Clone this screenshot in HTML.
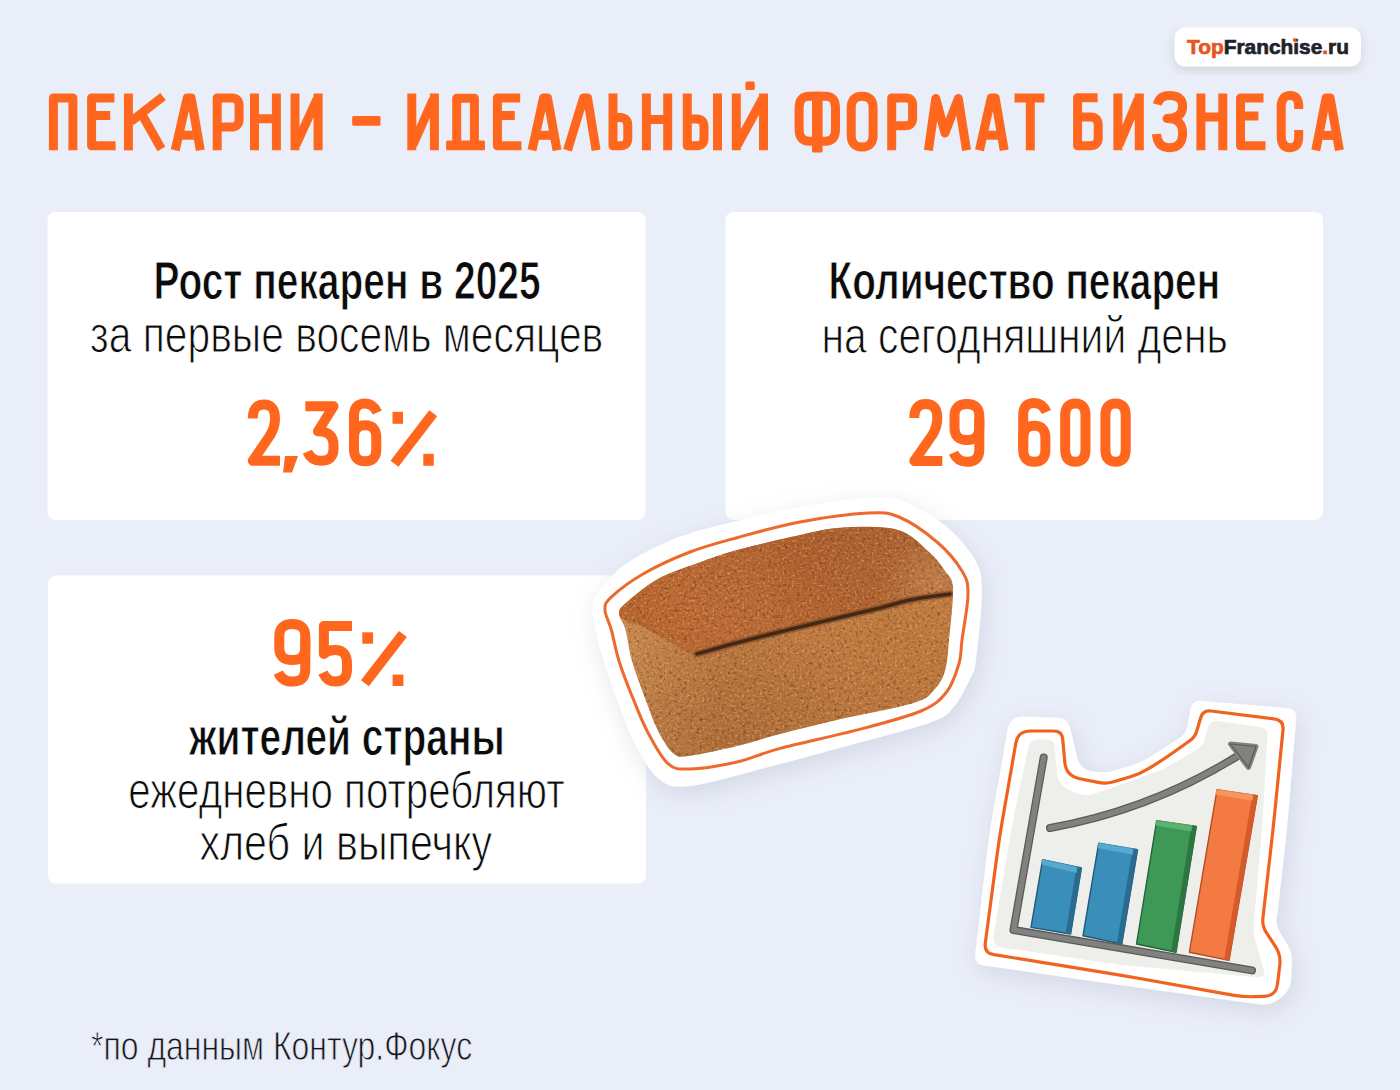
<!DOCTYPE html>
<html><head><meta charset="utf-8">
<style>
html,body{margin:0;padding:0;background:#EAEEF8;}
body{width:1400px;height:1090px;overflow:hidden;position:relative;font-family:"Liberation Sans",sans-serif;}
svg{position:absolute;left:0;top:0;}
text{font-family:"Liberation Sans",sans-serif;}
</style></head>
<body>
<svg width="1400" height="1090" viewBox="0 0 1400 1090">
<defs>
  <filter id="sh" x="-10%" y="-10%" width="120%" height="130%">
    <feGaussianBlur in="SourceAlpha" stdDeviation="6"/>
    <feOffset dy="4"/>
    <feComponentTransfer><feFuncA type="linear" slope="0.12"/></feComponentTransfer>
    <feMerge><feMergeNode/><feMergeNode in="SourceGraphic"/></feMerge>
  </filter>
  <filter id="stsh" x="-20%" y="-20%" width="140%" height="150%">
    <feGaussianBlur in="SourceAlpha" stdDeviation="12"/>
    <feOffset dx="3" dy="7"/>
    <feColorMatrix type="matrix" values="0 0 0 0 0.25  0 0 0 0 0.28  0 0 0 0 0.42  0 0 0 0.24 0"/>
    <feMerge><feMergeNode/><feMergeNode in="SourceGraphic"/></feMerge>
  </filter>
  <filter id="texDark" x="0" y="0" width="100%" height="100%" color-interpolation-filters="sRGB">
    <feTurbulence type="fractalNoise" baseFrequency="0.32" numOctaves="3" seed="7" result="n"/>
    <feColorMatrix in="n" type="matrix" values="0 0 0 0 0.35  0 0 0 0 0.17  0 0 0 0 0.05  3.2 0 0 0 -1.75"/>
  </filter>
  <filter id="texLight" x="0" y="0" width="100%" height="100%" color-interpolation-filters="sRGB">
    <feTurbulence type="fractalNoise" baseFrequency="0.4" numOctaves="3" seed="11" result="n"/>
    <feColorMatrix in="n" type="matrix" values="0 0 0 0 1  0 0 0 0 0.78  0 0 0 0 0.5  -3.2 0 0 0 1.5"/>
  </filter>
  <linearGradient id="breadSide" gradientUnits="userSpaceOnUse" x1="620" y1="650" x2="950" y2="620">
    <stop offset="0" stop-color="#C88A52"/>
    <stop offset="0.3" stop-color="#C07C44"/>
    <stop offset="1" stop-color="#BE7A40"/>
  </linearGradient>
  <linearGradient id="breadSideShade" gradientUnits="userSpaceOnUse" x1="0" y1="600" x2="0" y2="760">
    <stop offset="0" stop-color="#8A4A20" stop-opacity="0"/>
    <stop offset="1" stop-color="#8A4A20" stop-opacity="0.15"/>
  </linearGradient>
  <linearGradient id="breadTop" gradientUnits="userSpaceOnUse" x1="650" y1="580" x2="940" y2="560">
    <stop offset="0" stop-color="#B4632E"/>
    <stop offset="0.5" stop-color="#AF5F2C"/>
    <stop offset="1" stop-color="#AC6434"/>
  </linearGradient>
  <radialGradient id="crustHi" gradientUnits="userSpaceOnUse" cx="760" cy="600" r="160">
    <stop offset="0" stop-color="#E09060" stop-opacity="0.25"/>
    <stop offset="1" stop-color="#E09060" stop-opacity="0"/>
  </radialGradient>
  <radialGradient id="faceDark" gradientUnits="userSpaceOnUse" cx="730" cy="740" r="140">
    <stop offset="0" stop-color="#6A3A18" stop-opacity="0.16"/>
    <stop offset="1" stop-color="#6A3A18" stop-opacity="0"/>
  </radialGradient>
  <radialGradient id="crustLight" gradientUnits="userSpaceOnUse" cx="935" cy="585" r="55">
    <stop offset="0" stop-color="#E8B078" stop-opacity="0.35"/>
    <stop offset="1" stop-color="#E8B078" stop-opacity="0"/>
  </radialGradient>
  <radialGradient id="crustDark" gradientUnits="userSpaceOnUse" cx="800" cy="545" r="120">
    <stop offset="0" stop-color="#7A3A14" stop-opacity="0.18"/>
    <stop offset="1" stop-color="#7A3A14" stop-opacity="0"/>
  </radialGradient>
</defs>
<rect width="1400" height="1090" fill="#EAEEF8"/>
<!-- logo -->
<rect x="1174.5" y="27.5" width="186.5" height="39" rx="11" fill="#fff" filter="url(#sh)"/>
<text x="1187" y="54.4" font-weight="bold" font-size="20.5" textLength="162" lengthAdjust="spacingAndGlyphs" stroke-width="0.7"><tspan fill="#E8541C" stroke="#E8541C">Top</tspan><tspan fill="#1F232B" stroke="#1F232B">Franchise</tspan><tspan fill="#E8541C" stroke="#E8541C">.</tspan><tspan fill="#1F232B" stroke="#1F232B">ru</tspan></text>
<rect x="1293" y="38.5" width="3.6" height="3" fill="#E8541C"/>
<!-- title -->
<g fill="none" stroke="#FF661E" stroke-width="9" stroke-linecap="butt" stroke-linejoin="round">
<path d="M53.4,150.3 V98.0 H72.9 V150.3"/>
<path d="M114.4,98.0 H91.6 V145.8 H115.6"/>
<path d="M91.6,115.5 H110.2"/>
<path d="M128.4,93.5 V150.3"/>
<path d="M131,121.5 L163,96.5"/>
<path d="M142.5,115.5 L161.4,149"/>
<path d="M175.2,150.3 L187.2,98 H191.2 L200.3,150.3"/>
<path d="M180,135.2 H196"/>
<path d="M217.2,150.3 V98.0 H232 Q239.1,98.0 239.1,106 V119 Q239.1,127.1 231,127.1 H217.2"/>
<path d="M254.5,150.3 V93.5 M276.4,93.5 V150.3 M254.5,118.7 H276.4"/>
<path d="M295,150.3 V93.5 M318.1,93.5 V150.3 M317,99 L296,145"/>
<path d="M411.8,150.3 V93.5 M434.4,93.5 V150.3 M433.3,99 L412.9,145"/>
<path d="M456.7,141 V98.2 H474.4 V141"/>
<path d="M520.2,98.0 H497.4 V145.8 H521.4"/>
<path d="M497.4,115.5 H514.8"/>
<path d="M532,150.3 L543.5,98 H547.5 L557,150.3"/>
<path d="M536,135.3 H553"/>
<path d="M567.5,150.3 L583.5,98 H587.5 L596.1,150.3"/>
<path d="M613,93.5 V145.8 H621 Q627.8,145.8 627.8,138 V126 Q627.8,117.5 620,117.5 H613"/>
<path d="M646.4,150.3 V93.5 M667.7,93.5 V150.3 M646.4,119.6 H667.7"/>
<path d="M687.3,93.5 V145.8 H697 Q704,145.8 704,138 V127 Q704,119 697,119 H687.3"/>
<path d="M717.5,93.5 V150.3"/>
<path d="M736.3,150.3 V93.5 M763.5,93.5 V150.3 M762.4,99 L737.4,145"/>
<path d="M813,96.2 H809 Q799.1,96.2 799.1,108 V129 Q799.1,141.2 809,141.2 H825.6 Q835.5,141.2 835.5,129 V108 Q835.5,96.2 825.6,96.2 Z"/>
<path d="M862.1,96.2 Q873.1,96.2 873.1,108 V135 Q873.1,147 862.1,147 Q851.2,147 851.2,135 V108 Q851.2,96.2 862.1,96.2 Z"/>
<path d="M891.7,150.3 V98.0 H906 Q912.6,98.0 912.6,105 V118 Q912.6,125.8 905,125.8 H891.7"/>
<path d="M928.4,150.3 L935.8,98.5 L945,133 L958.3,98.5 L966.5,150.3"/>
<path d="M979.5,150.3 L991.2,98 H995.2 L1004.2,150.3"/>
<path d="M984,135.2 H1000"/>
<path d="M1014.5,98.0 H1044.4"/>
<path d="M1030.3,98.0 V150.3"/>
<path d="M1097.6,97.8 H1077.6 V145.8 H1090 Q1098.2,145.8 1098.2,138 V125 Q1098.2,117 1090,117 H1077.6"/>
<path d="M1117.9,150.3 V93.5 M1139.3,93.5 V150.3 M1138.2,99 L1119,145"/>
<path d="M1157.5,104.5 Q1159.5,95.6 1169.5,95.6 Q1182.6,95.6 1182.6,106.5 Q1182.6,118.6 1167,118.6 Q1182.6,118.6 1182.6,133 Q1182.6,147.7 1169.5,147.7 Q1157.5,147.7 1156.5,134"/>
<path d="M1200.9,150.3 V93.5 M1222.8,93.5 V150.3 M1200.9,117.1 H1222.8"/>
<path d="M1263.5,98.0 H1240.5 V145.8 H1265.5"/>
<path d="M1240.5,116 H1258.4"/>
<path d="M1298.7,109 V106 Q1298.7,95.6 1290,95.6 Q1281.2,95.6 1281.2,107 V136 Q1281.2,147.7 1290,147.7 Q1298.7,147.7 1298.7,137 V130"/>
<path d="M1315.8,150.3 L1326.1,98 H1330.1 L1339.4,150.3"/>
<path d="M1320,135.4 H1336"/>
</g>
<g fill="#FF661E">
<rect x="352.2" y="116.1" width="28.3" height="9.7" rx="1.5"/>
<rect x="446.1" y="140.5" width="38.9" height="9.7" rx="1.5"/>
<rect x="745.4" y="81.5" width="9.4" height="8.6" rx="1.5"/>
<rect x="812.0" y="91.7" width="10.6" height="60.8" rx="1.5"/>
</g>

<!-- cards -->
<rect x="47.5" y="212" width="598" height="308" rx="8" fill="#fff"/>
<rect x="725.5" y="212" width="597.5" height="308" rx="8" fill="#fff"/>
<rect x="48" y="575.5" width="598" height="308" rx="8" fill="#fff"/>
<text id="t1" x="153.40" y="299.30" font-size="53" textLength="387.27" lengthAdjust="spacingAndGlyphs" font-weight="bold" fill="#0B0B0B" stroke="#fff" stroke-width="1.0">Рост пекарен в 2025</text>
<text id="t2" x="90.00" y="352.40" font-size="52" textLength="513.24" lengthAdjust="spacingAndGlyphs" fill="#0B0B0B" stroke="#fff" stroke-width="1.1">за первые восемь месяцев</text>
<text id="t3" x="828.60" y="299.30" font-size="53" textLength="391.50" lengthAdjust="spacingAndGlyphs" font-weight="bold" fill="#0B0B0B" stroke="#fff" stroke-width="1.0">Количество пекарен</text>
<text id="t4" x="821.40" y="352.80" font-size="52" textLength="406.48" lengthAdjust="spacingAndGlyphs" fill="#0B0B0B" stroke="#fff" stroke-width="1.1">на сегодняшний день</text>
<text id="t5" x="189.00" y="755.10" font-size="53" textLength="315.66" lengthAdjust="spacingAndGlyphs" font-weight="bold" fill="#0B0B0B" stroke="#fff" stroke-width="1.0">жителей страны</text>
<text id="t6" x="128.20" y="807.50" font-size="52" textLength="436.43" lengthAdjust="spacingAndGlyphs" fill="#0B0B0B" stroke="#fff" stroke-width="1.1">ежедневно потребляют</text>
<text id="t7" x="199.40" y="860.00" font-size="52" textLength="292.65" lengthAdjust="spacingAndGlyphs" fill="#0B0B0B" stroke="#fff" stroke-width="1.1">хлеб и выпечку</text>
<text id="t8" x="91.00" y="1059.60" font-size="40" textLength="381.22" lengthAdjust="spacingAndGlyphs" fill="#15161C" stroke="#EAEEF8" stroke-width="0.9">*по данным Контур.Фокус</text>
<!-- numbers -->
<g fill="none" stroke="#FF661E" stroke-width="10" stroke-linecap="butt" stroke-linejoin="round">
<path d="M252.8,418.5 Q252.8,404.5 263.9,404.5 Q275.0,404.5 275.0,418.5 Q275.0,427.5 270.0,435.5 L252.8,460.8 H280.0"/>
<path d="M305.3,406.3 H333.5 L317.9,431.3 Q333.5,431.3 333.5,445.3 V448.8 Q333.5,460.8 320.9,460.8 Q311.3,460.8 307.3,451.8"/>
<path d="M365.1,461.3 Q354.0,461.3 354.0,449.3 V437.3 Q354.0,425.3 365.1,425.3 Q376.3,425.3 376.3,437.3 V449.3 Q376.3,461.3 365.1,461.3Z"/>
<path d="M354.0,447.3 V415.5 Q354.0,403.5 365.1,403.5 Q373.3,403.5 377.3,412.5"/>
<path d="M394.5,463.8 L433.2,413.2"/>
<path d="M914.3,418.0 Q914.3,404.0 925.8,404.0 Q937.3,404.0 937.3,418.0 Q937.3,427.0 932.3,435.0 L914.3,460.9 H942.3"/>
<path d="M966.9,404.0 Q979.3,404.0 979.3,416.0 V428.0 Q979.3,440.0 966.9,440.0 Q954.5,440.0 954.5,428.0 V416.0 Q954.5,404.0 966.9,404.0Z"/>
<path d="M979.3,418.0 V449.8 Q979.3,461.8 966.9,461.8 Q957.5,461.8 953.5,452.8"/>
<path d="M1034.3,461.8 Q1023.2,461.8 1023.2,449.8 V437.8 Q1023.2,425.8 1034.3,425.8 Q1045.4,425.8 1045.4,437.8 V449.8 Q1045.4,461.8 1034.3,461.8Z"/>
<path d="M1023.2,447.8 V415.0 Q1023.2,403.0 1034.3,403.0 Q1042.4,403.0 1046.4,412.0"/>
<path d="M1075.3,403.5 Q1085.5,403.5 1085.5,415.6 V449.7 Q1085.5,461.8 1075.3,461.8 Q1065.2,461.8 1065.2,449.7 V415.6 Q1065.2,403.5 1075.3,403.5Z"/>
<path d="M1115.6,403.5 Q1125.7,403.5 1125.7,415.6 V449.7 Q1125.7,461.8 1115.6,461.8 Q1105.4,461.8 1105.4,449.7 V415.6 Q1105.4,403.5 1115.6,403.5Z"/>
<path d="M292.3,624.1 Q305.3,624.1 305.3,636.1 V648.1 Q305.3,660.1 292.3,660.1 Q279.3,660.1 279.3,648.1 V636.1 Q279.3,624.1 292.3,624.1Z"/>
<path d="M305.3,638.1 V669.6 Q305.3,681.6 292.3,681.6 Q282.3,681.6 278.3,672.6"/>
<path d="M352.0,625.9 H323.9 V653.9 Q327.9,649.9 335.4,649.9 Q347.0,649.9 347.0,663.9 V669.6 Q347.0,681.6 335.4,681.6 Q326.9,681.6 322.9,672.6"/>
<path d="M364.9,683.2 L402.9,634.0"/>
</g>
<g fill="#FF661E">
<path d="M285,456 H298 L292,472.5 H283 Z"/>
<path d="M392.5,411.8 H403.0 V423.8 H392.5Z"/>
<path d="M423.3,453.8 H433.8 V465.8 H423.3Z"/>
<path d="M362.3,632.3 H373.1 V643.7 H362.3Z"/>
<path d="M392.6,674.6 H403.4 V686.0 H392.6Z"/>
</g>

<!-- bread sticker -->
<g id="bread">
  <path d="M592.6,607.0 C593.6,599.7 596.3,595.3 602.0,588.0 C607.7,580.7 615.0,571.2 627.0,563.0 C639.0,554.8 658.3,545.3 674.0,539.0 C689.7,532.7 700.0,530.3 721.0,525.0 C742.0,519.7 775.5,511.5 800.0,507.0 C824.5,502.5 850.5,498.8 868.0,498.0 C885.5,497.2 891.7,497.0 905.0,502.0 C918.3,507.0 936.3,518.3 948.0,528.0 C959.7,537.7 969.3,549.7 975.0,560.0 C980.7,570.3 981.8,573.3 982.0,590.0 C982.2,606.7 978.0,645.2 976.0,660.0 C974.0,674.8 973.8,671.0 970.0,679.0 C966.2,687.0 959.8,700.7 953.0,708.0 C946.2,715.3 947.3,716.5 929.0,723.0 C910.7,729.5 867.8,740.2 843.0,747.0 C818.2,753.8 805.5,757.5 780.0,764.0 C754.5,770.5 710.3,783.7 690.0,786.0 C669.7,788.3 667.3,785.3 658.0,778.0 C648.7,770.7 640.7,754.7 634.0,742.0 C627.3,729.3 622.8,714.8 618.0,702.0 C613.2,689.2 608.7,676.7 605.0,665.0 C601.3,653.3 598.1,641.7 596.0,632.0 C593.9,622.3 591.6,614.3 592.6,607.0Z" fill="#fff" filter="url(#stsh)"/>
  <path d="M605.0,610.0 C604.9,604.6 604.7,603.4 611.0,597.4 C617.3,591.4 629.8,581.6 643.0,574.0 C656.2,566.4 674.3,558.0 690.0,552.0 C705.7,546.0 718.7,542.7 737.0,537.7 C755.3,532.7 778.2,526.1 800.0,522.0 C821.8,517.9 851.5,513.8 868.0,513.0 C884.5,512.2 887.5,512.2 899.0,517.0 C910.5,521.8 926.5,533.0 937.0,542.0 C947.5,551.0 956.8,562.3 962.0,571.0 C967.2,579.7 968.0,582.5 968.0,594.0 C968.0,605.5 963.5,628.4 962.0,640.0 C960.5,651.6 961.6,654.9 959.0,663.6 C956.4,672.3 952.9,684.1 946.6,692.0 C940.3,699.9 935.7,704.7 921.0,711.0 C906.3,717.3 882.1,723.4 858.6,729.6 C835.1,735.8 800.3,743.0 780.0,748.4 C759.7,753.8 752.0,758.6 737.0,762.0 C722.0,765.4 701.5,768.7 690.0,769.0 C678.5,769.3 675.1,769.8 668.0,763.6 C660.9,757.4 653.6,743.3 647.6,732.0 C641.6,720.7 636.8,707.8 632.0,696.0 C627.2,684.2 622.4,672.0 619.0,661.0 C615.6,650.0 613.7,638.5 611.4,630.0 C609.1,621.5 605.1,615.4 605.0,610.0Z" fill="none" stroke="#EE6A2C" stroke-width="3"/>
  <clipPath id="breadClip"><path d="M619.0,613.0 C619.2,608.3 620.4,607.7 627.0,602.0 C633.6,596.3 646.8,585.1 658.6,578.6 C670.4,572.1 684.9,567.8 698.0,563.0 C711.1,558.2 720.0,554.7 737.0,550.0 C754.0,545.3 782.3,538.8 800.0,535.0 C817.7,531.2 826.7,528.3 843.0,527.5 C859.3,526.7 883.7,525.9 898.0,530.0 C912.3,534.1 921.2,545.2 929.0,552.0 C936.8,558.8 941.0,565.0 945.0,571.0 C949.0,577.0 952.3,576.5 953.0,588.0 C953.7,599.5 950.3,626.2 949.0,640.0 C947.7,653.8 947.5,662.7 945.0,671.0 C942.5,679.3 939.2,684.7 934.0,690.0 C928.8,695.3 928.8,698.2 913.6,703.0 C898.4,707.8 865.3,713.4 843.0,718.6 C820.7,723.8 797.7,729.4 780.0,734.0 C762.3,738.6 752.0,742.4 737.0,746.0 C722.0,749.6 700.5,754.4 690.0,755.7 C679.5,757.0 679.2,758.0 674.0,754.0 C668.8,750.0 663.3,740.9 658.6,732.0 C653.9,723.1 650.4,712.5 646.0,700.7 C641.6,688.9 635.4,672.8 632.0,661.0 C628.6,649.2 627.8,638.0 625.6,630.0 C623.4,622.0 618.8,617.7 619.0,613.0Z"/></clipPath>
  <g clip-path="url(#breadClip)">
    <rect x="600" y="500" width="380" height="280" fill="url(#breadSide)"/>
    <rect x="600" y="500" width="380" height="280" fill="url(#breadSideShade)"/>
    <rect x="600" y="500" width="380" height="280" fill="url(#faceDark)"/>
    <path d="M619.0,613.0 C619.3,610.0 620.4,607.7 627.0,602.0 C633.6,596.3 646.8,585.1 658.6,578.6 C670.4,572.1 684.9,567.8 698.0,563.0 C711.1,558.2 720.0,554.7 737.0,550.0 C754.0,545.3 782.3,538.8 800.0,535.0 C817.7,531.2 826.7,528.3 843.0,527.5 C859.3,526.7 883.7,525.9 898.0,530.0 C912.3,534.1 921.2,545.2 929.0,552.0 C936.8,558.8 941.0,564.7 945.0,571.0 C949.0,577.3 954.3,585.7 953.0,590.0 C951.7,594.3 944.2,595.2 937.0,597.0 C929.8,598.8 919.5,599.2 910.0,601.0 C900.5,602.8 898.3,603.5 880.0,608.0 C861.7,612.5 823.3,622.2 800.0,628.0 C776.7,633.8 757.2,638.7 740.0,643.0 C722.8,647.3 708.7,654.2 697.0,654.0 C685.3,653.8 678.7,646.3 670.0,642.0 C661.3,637.7 652.5,631.7 645.0,628.0 C637.5,624.3 629.3,622.5 625.0,620.0 C620.7,617.5 618.7,616.0 619.0,613.0Z" fill="url(#breadTop)"/>
    <path d="M619.0,613.0 C619.3,610.0 620.4,607.7 627.0,602.0 C633.6,596.3 646.8,585.1 658.6,578.6 C670.4,572.1 684.9,567.8 698.0,563.0 C711.1,558.2 720.0,554.7 737.0,550.0 C754.0,545.3 782.3,538.8 800.0,535.0 C817.7,531.2 826.7,528.3 843.0,527.5 C859.3,526.7 883.7,525.9 898.0,530.0 C912.3,534.1 921.2,545.2 929.0,552.0 C936.8,558.8 941.0,564.7 945.0,571.0 C949.0,577.3 954.3,585.7 953.0,590.0 C951.7,594.3 944.2,595.2 937.0,597.0 C929.8,598.8 919.5,599.2 910.0,601.0 C900.5,602.8 898.3,603.5 880.0,608.0 C861.7,612.5 823.3,622.2 800.0,628.0 C776.7,633.8 757.2,638.7 740.0,643.0 C722.8,647.3 708.7,654.2 697.0,654.0 C685.3,653.8 678.7,646.3 670.0,642.0 C661.3,637.7 652.5,631.7 645.0,628.0 C637.5,624.3 629.3,622.5 625.0,620.0 C620.7,617.5 618.7,616.0 619.0,613.0Z" fill="url(#crustHi)"/>
    <path d="M619.0,613.0 C619.3,610.0 620.4,607.7 627.0,602.0 C633.6,596.3 646.8,585.1 658.6,578.6 C670.4,572.1 684.9,567.8 698.0,563.0 C711.1,558.2 720.0,554.7 737.0,550.0 C754.0,545.3 782.3,538.8 800.0,535.0 C817.7,531.2 826.7,528.3 843.0,527.5 C859.3,526.7 883.7,525.9 898.0,530.0 C912.3,534.1 921.2,545.2 929.0,552.0 C936.8,558.8 941.0,564.7 945.0,571.0 C949.0,577.3 954.3,585.7 953.0,590.0 C951.7,594.3 944.2,595.2 937.0,597.0 C929.8,598.8 919.5,599.2 910.0,601.0 C900.5,602.8 898.3,603.5 880.0,608.0 C861.7,612.5 823.3,622.2 800.0,628.0 C776.7,633.8 757.2,638.7 740.0,643.0 C722.8,647.3 708.7,654.2 697.0,654.0 C685.3,653.8 678.7,646.3 670.0,642.0 C661.3,637.7 652.5,631.7 645.0,628.0 C637.5,624.3 629.3,622.5 625.0,620.0 C620.7,617.5 618.7,616.0 619.0,613.0Z" fill="url(#crustDark)"/>
    <path d="M619.0,613.0 C619.3,610.0 620.4,607.7 627.0,602.0 C633.6,596.3 646.8,585.1 658.6,578.6 C670.4,572.1 684.9,567.8 698.0,563.0 C711.1,558.2 720.0,554.7 737.0,550.0 C754.0,545.3 782.3,538.8 800.0,535.0 C817.7,531.2 826.7,528.3 843.0,527.5 C859.3,526.7 883.7,525.9 898.0,530.0 C912.3,534.1 921.2,545.2 929.0,552.0 C936.8,558.8 941.0,564.7 945.0,571.0 C949.0,577.3 954.3,585.7 953.0,590.0 C951.7,594.3 944.2,595.2 937.0,597.0 C929.8,598.8 919.5,599.2 910.0,601.0 C900.5,602.8 898.3,603.5 880.0,608.0 C861.7,612.5 823.3,622.2 800.0,628.0 C776.7,633.8 757.2,638.7 740.0,643.0 C722.8,647.3 708.7,654.2 697.0,654.0 C685.3,653.8 678.7,646.3 670.0,642.0 C661.3,637.7 652.5,631.7 645.0,628.0 C637.5,624.3 629.3,622.5 625.0,620.0 C620.7,617.5 618.7,616.0 619.0,613.0Z" fill="url(#crustLight)"/>
    <rect x="600" y="500" width="380" height="280" fill="#3A1E0C" filter="url(#texDark)" opacity="0.55"/>
    <rect x="600" y="500" width="380" height="280" fill="#FFE0B8" filter="url(#texLight)" opacity="0.45"/>
    <path d="M697.0,654.0 C704.2,652.0 722.8,646.5 740.0,642.0 C757.2,637.5 776.7,632.7 800.0,627.0 C823.3,621.3 861.7,612.5 880.0,608.0 C898.3,603.5 898.3,602.3 910.0,600.0 C921.7,597.7 943.3,595.0 950.0,594.0" fill="none" stroke="#6E4426" stroke-width="7" stroke-linecap="round" opacity="0.55"/>
    <path d="M697.0,654.0 C704.2,652.0 722.8,646.5 740.0,642.0 C757.2,637.5 776.7,632.7 800.0,627.0 C823.3,621.3 861.7,612.5 880.0,608.0 C898.3,603.5 898.3,602.3 910.0,600.0 C921.7,597.7 943.3,595.0 950.0,594.0" fill="none" stroke="#3E2212" stroke-width="3.6" stroke-linecap="round" opacity="0.9"/>
  </g>
</g>
<!-- chart sticker -->
<g id="chart">
  <path d="M1024.0,716.5 L1058.0,717.7 Q1068.0,718.0 1070.2,727.7 L1076.9,756.4 Q1080.0,770.0 1093.0,771.5 L1098.1,772.1 Q1106.0,773.0 1113.7,770.7 L1130.4,765.8 Q1140.0,763.0 1148.5,757.7 L1179.2,738.3 Q1186.0,734.0 1187.4,726.1 L1190.3,709.8 Q1192.0,700.0 1202.0,700.9 L1287.0,708.1 Q1297.0,709.0 1296.2,719.0 L1288.6,810.1 Q1287.0,830.0 1284.7,849.9 L1276.9,918.1 Q1276.0,926.0 1280.2,932.8 L1287.8,945.2 Q1292.0,952.0 1291.8,960.0 L1291.3,978.0 Q1291.0,990.0 1281.5,997.3 L1279.5,998.7 Q1270.0,1006.0 1258.1,1004.3 L1139.8,987.8 Q1120.0,985.0 1100.2,982.2 L983.9,965.4 Q974.0,964.0 975.2,954.1 L986.7,854.9 Q989.0,835.0 992.5,815.3 L1007.6,729.8 Q1010.0,716.0 1024.0,716.5Z" fill="#fff" filter="url(#stsh)"/>
  <path d="M1030.0,731.0 L1054.0,731.0 Q1062.0,731.0 1062.7,739.0 L1064.8,762.1 Q1066.0,776.0 1079.7,778.7 L1098.2,782.4 Q1106.0,784.0 1113.7,781.7 L1130.4,776.8 Q1140.0,774.0 1148.5,768.7 L1155.5,764.3 Q1164.0,759.0 1172.2,753.2 L1190.1,740.5 Q1195.0,737.0 1196.7,731.2 L1200.7,717.7 Q1203.0,710.0 1210.9,711.0 L1274.1,718.8 Q1284.0,720.0 1283.0,730.0 L1275.0,810.1 Q1273.0,830.0 1270.7,849.9 L1262.9,918.1 Q1262.0,926.0 1266.4,932.7 L1275.5,946.6 Q1281.0,955.0 1279.8,964.9 L1277.5,984.1 Q1276.0,996.0 1264.0,996.4 L1254.0,996.7 Q1244.0,997.0 1234.2,995.3 L1139.7,978.5 Q1120.0,975.0 1100.3,971.8 L993.9,954.6 Q984.0,953.0 985.3,943.1 L996.4,859.8 Q999.0,840.0 1002.4,820.3 L1015.9,742.8 Q1018.0,731.0 1030.0,731.0Z" fill="none" stroke="#F0621E" stroke-width="3.2"/>
  <path d="M1040.0,739.4 L1048.0,739.8 Q1054.0,740.0 1054.5,746.0 L1056.9,773.0 Q1058.0,785.0 1069.0,789.7 L1076.8,793.1 Q1086.0,797.0 1095.4,793.6 L1154.6,772.4 Q1164.0,769.0 1172.6,763.9 L1196.1,750.1 Q1203.0,746.0 1205.1,738.3 L1207.9,727.7 Q1210.0,720.0 1217.9,721.1 L1260.1,726.9 Q1268.0,728.0 1267.5,736.0 L1263.2,810.0 Q1262.0,830.0 1260.2,849.9 L1253.7,924.0 Q1253.0,932.0 1255.2,939.7 L1263.8,970.3 Q1266.0,978.0 1258.0,977.3 L1139.9,966.8 Q1120.0,965.0 1100.2,962.1 L1001.9,947.5 Q992.0,946.0 993.6,936.1 L1007.8,849.7 Q1011.0,830.0 1015.1,810.4 L1028.0,748.8 Q1030.0,739.0 1040.0,739.4Z" fill="#EEEFEB"/>
  <!-- bars -->
  <path d="M1042.6,859.7 L1081.4,868.0 L1070.6,934.0 L1031.0,927.4Z" fill="#3A8EBA" stroke="#22597A" stroke-width="1.4" stroke-linejoin="round"/>
  <path d="M1076.9,867.2 L1081.4,868.0 L1070.6,934.0 L1066.1,933.2Z" fill="#2A6C90" stroke="#2A6C90" stroke-width="0.8" stroke-linejoin="round"/>
  <path d="M1042.6,859.7 L1076.9,867.2 L1076.2,872.5 L1041.9,864.2Z" fill="#56A9CF" stroke="#56A9CF" stroke-width="0.8" stroke-linejoin="round"/>
  <path d="M1098.7,843.2 L1137.5,849.8 L1121.8,944.0 L1083.0,935.7Z" fill="#3A8EBA" stroke="#22597A" stroke-width="1.4" stroke-linejoin="round"/>
  <path d="M1133.0,849.0 L1137.5,849.8 L1121.8,944.0 L1117.3,943.2Z" fill="#2A6C90" stroke="#2A6C90" stroke-width="0.8" stroke-linejoin="round"/>
  <path d="M1098.7,843.2 L1133.0,849.0 L1132.3,854.3 L1098.0,847.7Z" fill="#56A9CF" stroke="#56A9CF" stroke-width="0.8" stroke-linejoin="round"/>
  <path d="M1156.7,820.7 L1196.3,826.5 L1176.0,952.2 L1136.5,944.0Z" fill="#3F9956" stroke="#25633A" stroke-width="1.4" stroke-linejoin="round"/>
  <path d="M1191.8,825.7 L1196.3,826.5 L1176.0,952.2 L1171.5,951.4Z" fill="#2D7642" stroke="#2D7642" stroke-width="0.8" stroke-linejoin="round"/>
  <path d="M1156.7,820.7 L1191.8,825.7 L1191.1,831.0 L1156.0,825.2Z" fill="#5CB26F" stroke="#5CB26F" stroke-width="0.8" stroke-linejoin="round"/>
  <path d="M1217.0,789.8 L1257.3,795.7 L1229.0,960.4 L1189.4,952.2Z" fill="#F47A44" stroke="#B94C22" stroke-width="1.4" stroke-linejoin="round"/>
  <path d="M1252.8,794.9 L1257.3,795.7 L1229.0,960.4 L1224.5,959.6Z" fill="#D65B2A" stroke="#D65B2A" stroke-width="0.8" stroke-linejoin="round"/>
  <path d="M1217.0,789.8 L1252.8,794.9 L1252.1,800.2 L1216.3,794.3Z" fill="#F8965E" stroke="#F8965E" stroke-width="0.8" stroke-linejoin="round"/>
<!-- axes -->
  <path d="M1043.7,757.5 L1013.5,930 L1252,970.4" fill="none" stroke="#595957" stroke-width="8" stroke-linecap="round" stroke-linejoin="round"/>
  <path d="M1043.7,757.5 L1013.5,930 L1252,970.4" fill="none" stroke="#818180" stroke-width="5.5" stroke-linecap="round" stroke-linejoin="round"/>
  <!-- arrow -->
  <path d="M1050,828 Q1150,810 1236,757" fill="none" stroke="#595957" stroke-width="8" stroke-linecap="round"/>
  <path d="M1050,828 Q1150,810 1236,757" fill="none" stroke="#818180" stroke-width="5.5" stroke-linecap="round"/>
  <path d="M1230.5,744 L1256,746.5 L1248.5,767.5Z" fill="#818180" stroke="#818180" stroke-width="5" stroke-linejoin="round"/>
  <path d="M1230.5,744 L1256,746.5 L1248.5,767.5Z" fill="none" stroke="#5A5A58" stroke-width="1.2" stroke-linejoin="round" transform="translate(0,0)"/>
</g>

</svg>
</body></html>
